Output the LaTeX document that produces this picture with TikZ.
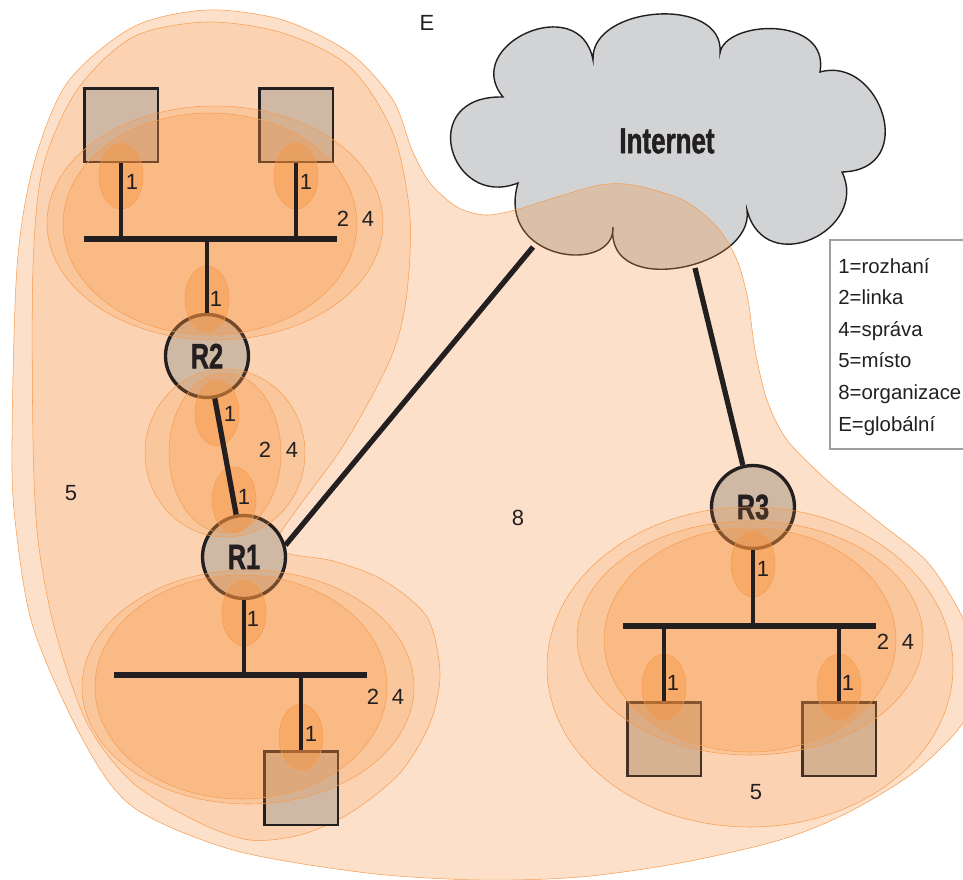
\documentclass[tikz,border=0pt]{standalone}
\usepackage{fontspec}
\setmainfont{Liberation Sans}
\newfontfamily\condbf[FakeStretch=0.72, BoldFeatures={FakeBold=1.3}]{Liberation Sans}

\definecolor{ink}{RGB}{35,31,32}
\definecolor{orng}{RGB}{246,145,60}
\definecolor{zoneline}{RGB}{246,156,80}
\definecolor{boxfill}{RGB}{208,185,164}
\definecolor{cloudfill}{RGB}{209,211,212}
\definecolor{keyline}{RGB}{157,159,162}

\tikzset{
  zone/.style={fill=orng, fill opacity=#1, draw=zoneline, line width=0.3pt},
  lvl8/.style={zone=0.28},
  lvl5/.style={zone=0.16},
  lvl4/.style={zone=0.18},
  lvl2/.style={zone=0.24},
  lvl1/.style={zone=0.40},
  router/.style={circle, draw=ink, line width=1.9pt, fill=boxfill, minimum size=1.66cm,
    inner sep=0pt, text=ink, font=\condbf\bfseries\fontsize{20}{22}\selectfont},
  host/.style={rectangle, draw=ink, line width=1.7pt, fill=boxfill, minimum size=1.48cm, inner sep=0pt},
  cloudy/.style={draw=ink, line width=0.8pt, fill=cloudfill},
  link/.style={draw=ink, line width=3pt},
  bus/.style={draw=ink, line width=3.8pt},
  drop/.style={draw=ink, line width=2pt},
  lbl/.style={inner sep=0pt, text=ink, font=\fontsize{12.5}{15}\selectfont},
  keytext/.style={anchor=base west, inner sep=0pt, text=ink, font=\fontsize{11.6}{14}\selectfont},
  keyframe/.style={draw=keyline, line width=0.8pt}
}

\begin{document}
\begin{tikzpicture}[x=0.02cm,y=-0.02cm]
  \useasboundingbox (0,0) rectangle (963,879);

  % cloud
  \draw[cloudy] (503,97)
      .. controls (460,45) and (580,-10) .. (593,60)
      .. controls (590,5) and (725,-5) .. (720,53)
      .. controls (725,20) and (830,15) .. (820,72)
      .. controls (880,55) and (920,170) .. (842,172)
      .. controls (870,230) and (765,280) .. (747,210)
      .. controls (755,268) and (605,300) .. (613,227)
      .. controls (615,275) and (495,262) .. (518,183)
      .. controls (450,210) and (415,95) .. cycle;
  \node[inner sep=0pt, text=ink, font=\condbf\bfseries\fontsize{20.5}{22}\selectfont] (inet) at (667,141) {Internet};

  % organizace + misto
  \path[lvl8] plot[smooth cycle] coordinates {(207,10) (283,20) (350,53) (393,100) (412,150) (430,183)
      (457,207) (485,215) (515,210) (560,196) (600,185) (633,185) (683,200) (717,227) (737,260)
      (748,300) (755,350) (767,400) (787,440) (830,483) (880,523) (930,565) (968,630) (975,690)
      (960,727) (913,773) (847,813) (780,840) (680,863) (580,877) (480,880) (367,873) (233,850)
      (133,807) (83,740) (33,627) (15,520) (12,440) (17,267) (33,167) (67,83) (133,27)};
  \path[lvl5] plot[smooth cycle] coordinates {(207,22) (283,33) (350,67) (393,133) (410,217) (406,300)
      (390,360) (345,443) (300,505) (278,538) (286,553) (333,561) (383,580) (427,617) (440,673)
      (430,723) (400,773) (350,813) (300,835) (250,840) (200,823) (133,783) (87,723) (55,630)
      (38,540) (33,440) (33,267) (43,167) (77,90) (133,37)};

  % routers and hosts
  \node[router] (R2) at (207,356) {R2};
  \node[router] (R1) at (244,557) {R1};
  \node[router] (R3) at (753,507) {R3};
  \node[host] (h1) at (121,125) {};
  \node[host] (h2) at (296,125) {};
  \node[host] (h3) at (301,788) {};
  \node[host] (h4) at (664,739) {};
  \node[host] (h5) at (839,739) {};

  \path[lvl5] (750,667) ellipse [x radius=203, y radius=160];
  \foreach \cx/\cy/\rx/\ry in {215/223/168/117, 225/453/80/84, 248/687/166/117, 750/638/173/117}
    \path[lvl4] (\cx,\cy) ellipse [x radius=\rx, y radius=\ry];
  \foreach \cx/\cy/\rx/\ry in {210/224/147/111, 225/453/56/80, 241/687/146/112, 750/640/146/112}
    \path[lvl2] (\cx,\cy) ellipse [x radius=\rx, y radius=\ry];
  \foreach \cx/\cy in {121/176, 296/176, 207/299, 217/413, 234/500, 244/613, 301/737, 753/564, 664/687, 839/687}
    \path[lvl1] (\cx,\cy) ellipse [x radius=22, y radius=33];

  % links
  \coordinate (c1) at (533,247);
  \coordinate (c3) at (695,268);
  \draw[link] (R2) -- (R1);
  \draw[link] (R1.16) -- (c1);
  \draw[link] (c3) -- (R3);

  % LANs
  \coordinate (busA-w) at (84,239);  \coordinate (busA-e) at (337,239);
  \coordinate (busB-w) at (114,675); \coordinate (busB-e) at (367,675);
  \coordinate (busC-w) at (623,626); \coordinate (busC-e) at (876,626);
  \draw[bus] (busA-w) -- (busA-e);
  \draw[bus] (busB-w) -- (busB-e);
  \draw[bus] (busC-w) -- (busC-e);
  \draw[drop] (h1) -- (h1 |- busA-w);
  \draw[drop] (h2) -- (h2 |- busA-w);
  \draw[drop] (R2) -- (R2 |- busA-w);
  \draw[drop] (R1) -- (R1 |- busB-w);
  \draw[drop] (h3) -- (h3 |- busB-w);
  \draw[drop] (R3) -- (R3 |- busC-w);
  \draw[drop] (h4) -- (h4 |- busC-w);
  \draw[drop] (h5) -- (h5 |- busC-w);

  \foreach \x/\y/\t [count=\i] in {132/182/1, 306/182/1, 216/299/1, 343/219/2, 368/219/4,
      230/414/1, 244/497/1, 265/450/2, 292/450/4, 253/619/1, 311/734/1, 373/697/2, 398/697/4,
      763/569/1, 673/683/1, 848/683/1, 883/642/2, 908/642/4, 756/792/5, 518/518/8, 71/493/5, 427/23/E}
    \node[lbl] (lbl\i) at (\x,\y) {\t};

  % key
  \draw[keyframe] (830,240) rectangle (985,449);
  \foreach \t [count=\i] in {1=rozhaní, 2=linka, 4=správa, 5=místo, 8=organizace, E=globální}
    \node[keytext] (key\i) at (838,{273+31.6*(\i-1)}) {\t};
\end{tikzpicture}
\end{document}
